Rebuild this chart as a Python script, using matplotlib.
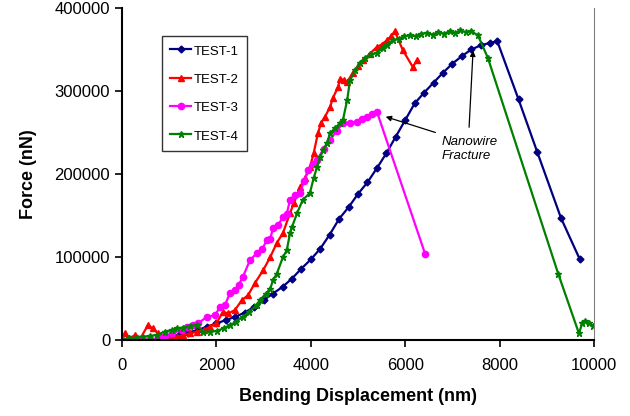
import matplotlib
matplotlib.use("Agg")
import matplotlib.pyplot as plt
from matplotlib.ticker import MultipleLocator

plt.rcParams['font.family'] = ['Liberation Sans', 'DejaVu Sans']

# TEST-1
x1 = [0, 400, 800, 1000, 1200, 1400, 1600, 1800, 2000, 2200, 2400, 2600, 2800, 3000, 3200, 3400,
      3600, 3800, 4000, 4200, 4400, 4600, 4800, 5000, 5200, 5400, 5600, 5800, 6000, 6200, 6400,
      6600, 6800, 7000, 7200, 7400, 7600, 7800, 7950, 8400, 8800, 9300, 9700]
y1 = [0, 0, 500, 3000, 6000, 9000, 12000, 16000, 20000, 24000, 28000, 33000, 40000, 48000, 56000,
      64000, 74000, 86000, 97000, 110000, 127000, 146000, 160000, 176000, 190000, 207000, 225000,
      245000, 265000, 285000, 298000, 310000, 322000, 333000, 342000, 350000, 355000, 358000,
      360000, 290000, 226000, 147000, 97000]

# TEST-2
x2 = [0, 60, 150, 280, 400, 550, 650, 760, 900, 1050, 1170, 1300, 1450, 1590, 1730, 1860, 2000,
      2140, 2250, 2390, 2540, 2670, 2820, 2990, 3140, 3280, 3410, 3560, 3640, 3770, 3880, 3980,
      4060, 4150, 4220, 4300, 4410, 4470, 4580, 4620, 4700, 4770, 4890, 5000, 5110, 5250, 5400,
      5500, 5610, 5700, 5780, 5950, 6160, 6250]
y2 = [0, 8000, 2000, 6000, 3000, 18000, 14000, 8000, 4000, 3000, 4000, 6000, 8000, 10000, 12000,
      16000, 20000, 34000, 32000, 36000, 48000, 54000, 69000, 84000, 100000, 117000, 129000,
      153000, 165000, 184000, 195000, 208000, 225000, 249000, 262000, 269000, 281000, 292000,
      305000, 315000, 313000, 311000, 322000, 330000, 337000, 345000, 353000, 356000, 361000,
      366000, 372000, 349000, 329000, 337000]

# TEST-3
x3 = [0, 200, 400, 600, 800, 910, 1050, 1270, 1380, 1500, 1610, 1800, 1970, 2080, 2180, 2290,
      2390, 2470, 2560, 2710, 2860, 2970, 3070, 3140, 3200, 3300, 3410, 3490, 3560, 3670, 3770,
      3860, 3940, 4040, 4130, 4270, 4410, 4550, 4680, 4830, 4980, 5090, 5190, 5300, 5400, 6420]
y3 = [0, 0, 0, 1000, 2000, 5000, 8000, 12000, 16000, 18000, 20000, 28000, 30000, 40000, 42000,
      57000, 60000, 66000, 76000, 96000, 105000, 110000, 120000, 122000, 135000, 138000, 148000,
      152000, 169000, 175000, 177000, 192000, 205000, 212000, 217000, 230000, 241000, 252000,
      261000, 262000, 263000, 266000, 269000, 272000, 275000, 104000]

# TEST-4
x4 = [0, 150, 300, 450, 600, 740, 900, 1050, 1170, 1300, 1450, 1590, 1720, 1860, 2010, 2150, 2290,
      2420, 2560, 2700, 2850, 2920, 3050, 3140, 3200, 3280, 3410, 3490, 3560, 3600, 3710, 3830,
      3980, 4060, 4130, 4200, 4260, 4340, 4410, 4520, 4620, 4680, 4770, 4830, 4940, 5040, 5150,
      5280, 5400, 5520, 5620, 5740, 5860, 5980, 6100, 6220, 6340, 6460, 6580, 6700, 6820, 6940,
      7060, 7160, 7280, 7400, 7540, 7750, 9240, 9680, 9750, 9810, 9900, 9980]
y4 = [0, 2000, 3000, 4000, 5000, 6000, 10000, 12000, 14000, 15000, 17000, 18000, 10000, 10000,
      11000, 14000, 18000, 22000, 28000, 34000, 42000, 48000, 56000, 62000, 72000, 80000, 100000,
      108000, 129000, 136000, 153000, 169000, 177000, 195000, 208000, 220000, 229000, 237000,
      249000, 256000, 261000, 265000, 289000, 313000, 325000, 334000, 340000, 344000, 346000,
      352000, 356000, 361000, 363000, 366000, 367000, 366000, 369000, 370000, 368000, 371000,
      369000, 372000, 370000, 373000, 371000, 372000, 367000, 340000, 80000, 8000, 20000, 23000,
      20000, 17000]

fig = plt.figure(figsize=(6.3, 4.16), dpi=100)
ax = fig.add_axes([0.1937, 0.1827, 0.7492, 0.7981])

ax.plot(x1, y1, color='#000080', marker='D', markersize=3.5, lw=1.6, label='TEST-1')
ax.plot(x2, y2, color='#FF0000', marker='^', markersize=4.5, lw=1.6, label='TEST-2')
ax.plot(x3, y3, color='#FF00FF', marker='o', markersize=4.5, lw=1.6, label='TEST-3')
ax.plot(x4, y4, color='#008000', marker='*', markersize=5, lw=1.6, label='TEST-4')

ax.set_xlim(0, 10000)
ax.set_ylim(0, 400000)
ax.xaxis.set_major_locator(MultipleLocator(2000))
ax.yaxis.set_major_locator(MultipleLocator(100000))
ax.tick_params(direction='out', length=5, width=1.2, labelsize=12, colors='black')
ax.tick_params(axis='x', pad=8)

ax.spines['top'].set_visible(False)
ax.spines['right'].set_color('#808080')
ax.spines['left'].set_linewidth(1.5)
ax.spines['bottom'].set_linewidth(1.5)

ax.set_xlabel('Bending Displacement (nm)', fontsize=13, fontweight='bold', labelpad=11)
ax.set_ylabel('Force (nN)', fontsize=13, fontweight='bold', labelpad=13)

leg = ax.legend(loc='upper left', bbox_to_anchor=(0.085, 0.9157), borderaxespad=0,
                fontsize=9.5, frameon=True, fancybox=False, edgecolor='black',
                labelspacing=1.12, handlelength=1.6, handletextpad=0.2, borderpad=0.6,
                handleheight=1.05)
leg.get_frame().set_linewidth(1.0)

ax.text(6780, 230000, 'Nanowire\nFracture', fontsize=9.5, style='italic', ha='left',
        va='center', linespacing=1.3)
ax.annotate('', xy=(5530, 270000), xytext=(6695, 249000),
            arrowprops=dict(arrowstyle='-|>', color='black', lw=0.9, mutation_scale=8))
ax.annotate('', xy=(7440, 352000), xytext=(7350, 253000),
            arrowprops=dict(arrowstyle='-|>', color='black', lw=0.9, mutation_scale=8))

fig.savefig('out.png', dpi=100)
